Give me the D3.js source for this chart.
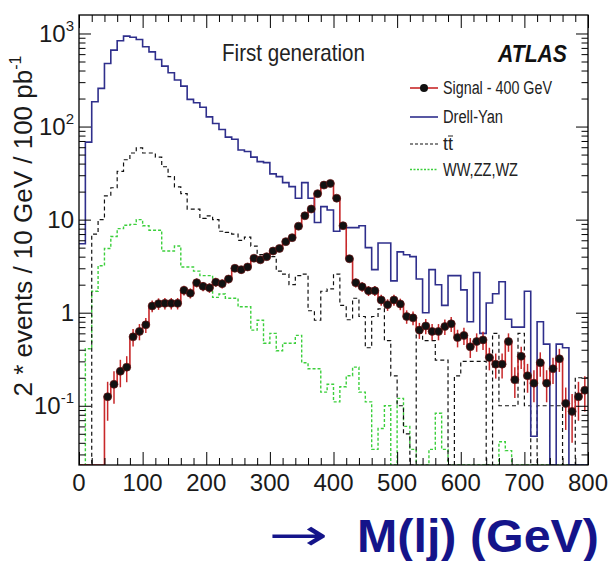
<!DOCTYPE html>
<html><head><meta charset="utf-8">
<script src="https://cdn.jsdelivr.net/npm/d3@7"></script>
<style>body{margin:0;background:#fff;} svg{display:block;font-family:"Liberation Sans",Arial,sans-serif;}</style>
</head><body>
<svg id="c" width="611" height="561"></svg>
<script>
// ---- data (10 GeV bins, 0..800 GeV) ----
const binWidth = 10;
const drellYan = [
 5.5, 68, 185, 257, 476, 663, 835, 936, 910, 862,
 721, 635, 526, 446, 378, 316, 272, 196, 180, 161,
 127, 108, 93, 77, 73, 56, 54, 47, 42, 41,
 31, 29, 25, 22.6, 17, 25, 17, 9.3, 13.8, 12.7,
 7.5, 8.5, 8.2, 8.2, 8.6, 5.0, 2.9, 5.6, 5.6, 2.2,
 4.5, 4.2, 4.0, 2.3, 1.0, 2.9, 2.0, 1.2, 2.5, 2.5,
 1.76, 0.8, 2.7, 0.6, 1.27, 1.6, 2.15, 0.85, 0.7, 0.7,
 1.7, 0.047, 0.8, 0.46, 0, 0.46, 0.42, 0, 0, 0
];
const ttbar = [
 0, 0, 7, 10, 18, 22, 33, 44, 52, 59,
 52, 52, 47, 37, 29, 22.5, 19, 13, 13, 10.3,
 11, 10, 7.5, 7.3, 7.0, 6.0, 6.5, 5.2, 4.2, 4.0,
 4.0, 2.8, 2.6, 2.0, 2.5, 2.6, 1.05, 0.83, 1.7, 1.8,
 2.6, 1.2, 0.84, 1.43, 0.91, 0.42, 0.91, 1.1, 0.5, 0.21,
 0.1, 0.05, 0, 0.6, 0.5, 0.5, 0.31, 0.31, 0, 0.21,
 0.3, 0.3, 0.3, 0.3, 0, 0.6, 0.1, 0.1, 0.1, 0.6,
 0.1, 0, 0.1, 0.1, 0.1, 0.1, 0, 0, 0.2, 0.2
];
const diboson = [
 0, 0.41, 1.7, 3.2, 4.9, 6.6, 8.0, 8.7, 8.9, 10,
 8.6, 7.7, 7.7, 4.6, 4.6, 5.2, 3.1, 3.1, 2.8, 2.5,
 2.5, 1.46, 1.59, 1.43, 1.43, 1.16, 1.16, 0.65, 0.83, 0.47,
 0.6, 0.39, 0.47, 0.47, 0.57, 0.29, 0.25, 0.25, 0.14, 0.17,
 0.11, 0.16, 0.21, 0.26, 0.14, 0.11, 0.034, 0.057, 0.10, 0,
 0.12, 0.06, 0.034, 0, 0, 0.034, 0.083, 0.034, 0, 0,
 0, 0, 0, 0, 0, 0, 0.041, 0.033, 0, 0,
 0, 0, 0, 0, 0, 0, 0, 0, 0, 0
];
const signal = [
 0, 0, 0, 0, 0.125, 0.17, 0.235, 0.26, 0.55, 0.63,
 0.74, 1.18, 1.25, 1.26, 1.26, 1.26, 1.74, 1.62, 2.1, 1.92,
 1.85, 2.13, 2.05, 2.3, 3.0, 2.9, 3.1, 3.85, 3.7, 4.0,
 4.6, 4.9, 5.8, 6.4, 8.5, 11, 13, 19, 23.5, 24.5,
 17, 8.6, 3.8, 2.1, 1.9, 1.72, 1.72, 1.37, 1.22, 1.37,
 1.24, 0.91, 0.88, 0.65, 0.72, 0.63, 0.63, 0.71, 0.76, 0.54,
 0.57, 0.43, 0.49, 0.51, 0.33, 0.28, 0.28, 0.49, 0.19, 0.34,
 0.21, 0.175, 0.29, 0.175, 0.25, 0.32, 0.106, 0.087, 0.125, 0.147
];
const signalErr = [
 0, 0, 0, 0, 0.056, 0.065, 0.077, 0.081, 0.117, 0.125,
 0.136, 0.17, 0.177, 0.177, 0.177, 0.177, 0.21, 0.2, 0.23, 0.22,
 0.215, 0.23, 0.226, 0.24, 0.27, 0.27, 0.28, 0.31, 0.3, 0.32,
 0.34, 0.35, 0.38, 0.4, 0.46, 0.52, 0.57, 0.69, 0.77, 0.78,
 0.65, 0.46, 0.31, 0.23, 0.22, 0.21, 0.21, 0.185, 0.175, 0.185,
 0.176, 0.15, 0.148, 0.127, 0.134, 0.125, 0.125, 0.133, 0.138, 0.116,
 0.12, 0.104, 0.11, 0.113, 0.09, 0.084, 0.084, 0.11, 0.069, 0.092,
 0.072, 0.066, 0.085, 0.066, 0.079, 0.089, 0.051, 0.047, 0.056, 0.06
];
const xTickValues = [0, 100, 200, 300, 400, 500, 600, 700, 800];
const yDecades = [0.1, 1, 10, 100, 1000];
const yDecadeBase = ["10", "1", "10", "10", "10"];
const yDecadeExp = ["-1", "", "", "2", "3"];
const legendLabels = ["Signal - 400 GeV", "Drell-Yan", "tt", "WW,ZZ,WZ"];

// ---- layout ----
const L = 79, R = 588, T = 15, B = 465;
const yMin = 0.0231, yMax = 1580;
const x = d3.scaleLinear().domain([0, 800]).range([L, R]);
const y = d3.scaleLog().domain([yMin, yMax]).range([B, T]);
const svg = d3.select("#c");
const COL = {dy: "#2f2f8c", tt: "#111", vv: "#3ccf3c", sig: "#c8282a"};

svg.append("defs").append("clipPath").attr("id", "clip")
  .append("rect").attr("x", L).attr("y", T).attr("width", R - L).attr("height", B - T);

function stepPoints(values) {
  const pts = [];
  values.forEach((v, i) => {
    const yy = v > yMin ? y(v) : y(yMin);
    pts.push([x(i * binWidth), yy], [x((i + 1) * binWidth), yy]);
  });
  return pts;
}
const line = d3.line();
const g = svg.append("g").attr("clip-path", "url(#clip)");

g.append("path").attr("d", line(stepPoints(diboson))).attr("fill", "none")
  .attr("stroke", COL.vv).attr("stroke-width", 1.4).attr("stroke-dasharray", "3,2");
g.append("path").attr("d", line(stepPoints(ttbar))).attr("fill", "none")
  .attr("stroke", COL.tt).attr("stroke-width", 1.2).attr("stroke-dasharray", "4,3");
g.append("path").attr("d", line(stepPoints(drellYan))).attr("fill", "none")
  .attr("stroke", COL.dy).attr("stroke-width", 1.6);
g.append("path").attr("d", line(stepPoints(signal))).attr("fill", "none")
  .attr("stroke", COL.sig).attr("stroke-width", 1.6);

const sigPts = signal.map((v, i) => ({v, e: signalErr[i], c: (i + 0.5) * binWidth})).filter(d => d.v > 0);
g.selectAll("line.err").data(sigPts).enter().append("line")
  .attr("x1", d => x(d.c)).attr("x2", d => x(d.c))
  .attr("y1", d => y(d.v + d.e)).attr("y2", d => y(Math.max(d.v - d.e, yMin)))
  .attr("stroke", COL.sig).attr("stroke-width", 1.5);
g.selectAll("circle.m").data(sigPts).enter().append("circle")
  .attr("cx", d => x(d.c)).attr("cy", d => y(d.v)).attr("r", 4)
  .attr("fill", "#111").attr("stroke", "#6a1414").attr("stroke-width", 0.7);

// ---- frame & ticks ----
const minorY = [];
for (let p = -2; p <= 3; p++) for (let k = 2; k <= 9; k++) {
  const v = k * Math.pow(10, p);
  if (v > yMin && v < yMax) minorY.push(v);
}
const minorX = d3.range(0, 801, 20).filter(v => v % 100 !== 0);
function addAxis(axis, tf) {
  const a = svg.append("g").attr("transform", tf).call(axis);
  a.select(".domain").remove();
  a.selectAll("line").attr("stroke", "#000").attr("stroke-width", 1);
  a.selectAll("text").remove();
}
addAxis(d3.axisLeft(y).tickValues(yDecades).tickSize(-12), `translate(${L},0)`);
addAxis(d3.axisLeft(y).tickValues(minorY).tickSize(-6.5), `translate(${L},0)`);
addAxis(d3.axisRight(y).tickValues(yDecades).tickSize(-12), `translate(${R},0)`);
addAxis(d3.axisRight(y).tickValues(minorY).tickSize(-6.5), `translate(${R},0)`);
addAxis(d3.axisBottom(x).tickValues(xTickValues).tickSize(-13), `translate(0,${B})`);
addAxis(d3.axisBottom(x).tickValues(minorX).tickSize(-7), `translate(0,${B})`);
addAxis(d3.axisTop(x).tickValues(xTickValues).tickSize(-13), `translate(0,${T})`);
addAxis(d3.axisTop(x).tickValues(minorX).tickSize(-7), `translate(0,${T})`);
svg.append("rect").attr("x", L).attr("y", T).attr("width", R - L).attr("height", B - T)
  .attr("fill", "none").attr("stroke", "#000").attr("stroke-width", 1.3);

// ---- tick labels ----
svg.append("g").selectAll("text").data(xTickValues).enter().append("text")
  .attr("x", d => x(d)).attr("y", 491).attr("text-anchor", "middle")
  .attr("font-size", 24).attr("fill", "#1a1a1a").text(d => d);
const yl = svg.append("g").selectAll("text").data(yDecades).enter().append("text")
  .attr("x", 74).attr("y", d => y(d) + 8.5).attr("text-anchor", "end")
  .attr("font-size", 24).attr("fill", "#1a1a1a");
yl.append("tspan").text((d, i) => yDecadeBase[i]);
yl.append("tspan").attr("dy", -11).attr("font-size", 15).text((d, i) => yDecadeExp[i]);

// ---- axis title ----
const yt = svg.append("text").attr("transform", "translate(32,226) rotate(-90)")
  .attr("text-anchor", "middle").attr("font-size", 26).attr("fill", "#1a1a1a");
yt.append("tspan").text("2 * events / 10 GeV / 100 pb");
yt.append("tspan").attr("dy", -11).attr("font-size", 16).text("-1");

svg.append("text").attr("x", 268).attr("y", 550).attr("font-size", 44)
  .attr("fill", "#14148a").attr("font-family", "DejaVu Sans")
  .attr("textLength", 60).attr("lengthAdjust", "spacingAndGlyphs").text("\u2192");
svg.append("text").attr("x", 357).attr("y", 552).attr("font-size", 46).attr("font-weight", "bold")
  .attr("fill", "#14148a").attr("textLength", 242).attr("lengthAdjust", "spacingAndGlyphs").text("M(lj) (GeV)");

// ---- in-plot texts ----
svg.append("text").attr("x", 222).attr("y", 61).attr("font-size", 24).attr("fill", "#222")
  .attr("textLength", 143).attr("lengthAdjust", "spacingAndGlyphs").text("First generation");
svg.append("text").attr("x", 498).attr("y", 62).attr("font-size", 24).attr("fill", "#111")
  .attr("font-weight", "bold").attr("font-style", "italic")
  .attr("textLength", 69).attr("lengthAdjust", "spacingAndGlyphs").text("ATLAS");

// ---- legend ----
const legY = [88, 117, 144, 169.5];
const legTextW = [109, 60, 10, 75];
const lg = svg.append("g");
lg.append("line").attr("x1", 410).attr("x2", 438).attr("y1", legY[0]).attr("y2", legY[0])
  .attr("stroke", COL.sig).attr("stroke-width", 1.6);
lg.append("circle").attr("cx", 424).attr("cy", legY[0]).attr("r", 4).attr("fill", "#111");
lg.append("line").attr("x1", 410).attr("x2", 438).attr("y1", legY[1]).attr("y2", legY[1])
  .attr("stroke", COL.dy).attr("stroke-width", 1.6);
lg.append("line").attr("x1", 410).attr("x2", 438).attr("y1", legY[2]).attr("y2", legY[2])
  .attr("stroke", COL.tt).attr("stroke-width", 1.2).attr("stroke-dasharray", "3,2");
lg.append("line").attr("x1", 410).attr("x2", 438).attr("y1", legY[3]).attr("y2", legY[3])
  .attr("stroke", COL.vv).attr("stroke-width", 1.3).attr("stroke-dasharray", "2,1.5");
legendLabels.forEach((t, i) => {
  lg.append("text").attr("x", 443).attr("y", legY[i] + 6).attr("font-size", 18)
    .attr("fill", "#222").attr("textLength", legTextW[i]).attr("lengthAdjust", "spacingAndGlyphs").text(t);
});
// bar over second t of "tt"
lg.append("line").attr("x1", 448).attr("x2", 453).attr("y1", legY[2] - 8).attr("y2", legY[2] - 8)
  .attr("stroke", "#222").attr("stroke-width", 1);
</script>
</body></html>
